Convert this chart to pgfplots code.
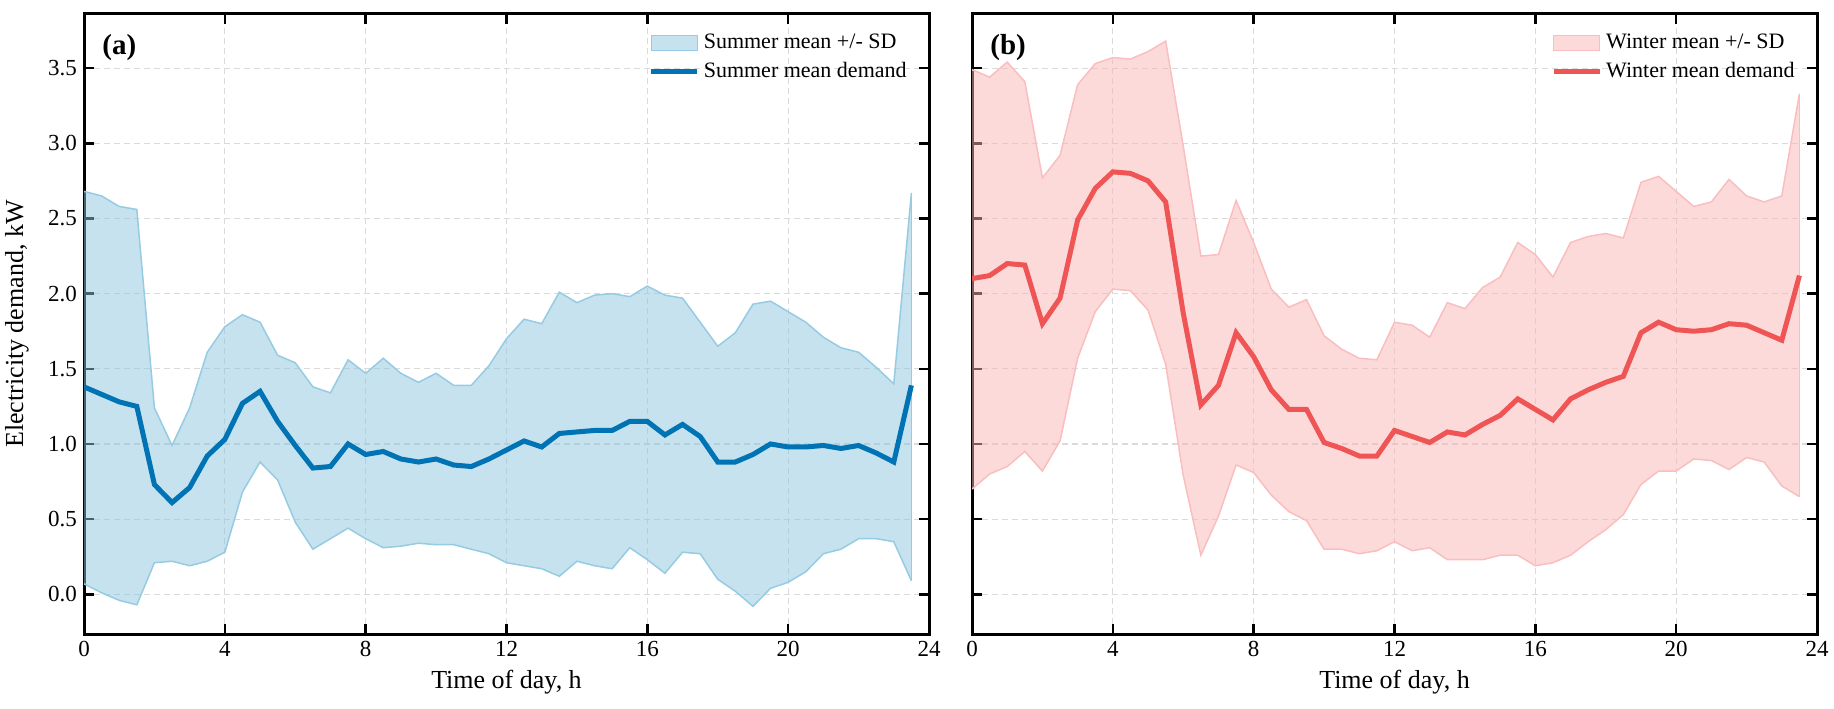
\documentclass[border=0pt]{standalone}
\usepackage{fontspec}
\setmainfont{Liberation Serif}
\usepackage{pgfplots}
\pgfplotsset{compat=1.18}
\usepackage{pgfplotstable}
\usepgfplotslibrary{fillbetween}

\definecolor{sline}{RGB}{0,115,180}
\definecolor{sfill}{RGB}{141,197,221}
\definecolor{sedge}{RGB}{150,203,228}
\definecolor{wline}{RGB}{240,85,85}
\definecolor{wfill}{RGB}{251,181,181}
\definecolor{wedge}{RGB}{250,190,190}
\definecolor{gridc}{RGB}{218,218,218}

\pgfplotstableread{
t    sm    su    sl     wm    wu    wl
0    1.38  2.68  0.07   2.10  3.49  0.70
0.5  1.33  2.65  0.01   2.12  3.44  0.80
1    1.28  2.58  -0.04  2.20  3.54  0.85
1.5  1.25  2.56  -0.07  2.19  3.41  0.95
2    0.73  1.24  0.21   1.80  2.77  0.82
2.5  0.61  0.99  0.22   1.97  2.92  1.02
3    0.71  1.24  0.19   2.49  3.39  1.57
3.5  0.92  1.61  0.22   2.70  3.53  1.88
4    1.03  1.78  0.28   2.81  3.57  2.03
4.5  1.27  1.86  0.68   2.80  3.56  2.02
5    1.35  1.81  0.88   2.75  3.61  1.89
5.5  1.15  1.59  0.76   2.61  3.68  1.53
6    0.99  1.54  0.48   1.87  2.98  0.79
6.5  0.84  1.38  0.30   1.26  2.25  0.26
7    0.85  1.34  0.37   1.39  2.26  0.52
7.5  1.00  1.56  0.44   1.74  2.62  0.86
8    0.93  1.47  0.37   1.58  2.34  0.81
8.5  0.95  1.57  0.31   1.36  2.03  0.66
9    0.90  1.47  0.32   1.23  1.91  0.55
9.5  0.88  1.41  0.34   1.23  1.96  0.49
10   0.90  1.47  0.33   1.01  1.72  0.30
10.5 0.86  1.39  0.33   0.97  1.63  0.30
11   0.85  1.39  0.30   0.92  1.57  0.27
11.5 0.90  1.52  0.27   0.92  1.56  0.29
12   0.96  1.70  0.21   1.09  1.81  0.35
12.5 1.02  1.83  0.19   1.05  1.79  0.29
13   0.98  1.80  0.17   1.01  1.71  0.31
13.5 1.07  2.01  0.12   1.08  1.94  0.23
14   1.08  1.94  0.22   1.06  1.90  0.23
14.5 1.09  1.99  0.19   1.13  2.04  0.23
15   1.09  2.00  0.17   1.19  2.11  0.26
15.5 1.15  1.98  0.31   1.30  2.34  0.26
16   1.15  2.05  0.23   1.23  2.26  0.19
16.5 1.06  1.99  0.14   1.16  2.11  0.21
17   1.13  1.97  0.28   1.30  2.34  0.26
17.5 1.05  1.81  0.27   1.36  2.38  0.35
18   0.88  1.65  0.10   1.41  2.40  0.43
18.5 0.88  1.74  0.02   1.45  2.37  0.53
19   0.93  1.93  -0.08  1.74  2.74  0.73
19.5 1.00  1.95  0.04   1.81  2.78  0.82
20   0.98  1.88  0.08   1.76  2.68  0.82
20.5 0.98  1.81  0.15   1.75  2.58  0.90
21   0.99  1.71  0.27   1.76  2.61  0.89
21.5 0.97  1.64  0.30   1.80  2.76  0.83
22   0.99  1.61  0.37   1.79  2.65  0.91
22.5 0.94  1.51  0.37   1.74  2.61  0.88
23   0.88  1.40  0.35   1.69  2.65  0.72
23.5 1.39  2.67  0.09   2.12  3.33  0.65
}\data

\pgfplotsset{
  panel/.style={
    scale only axis, width=422.5pt, height=310pt,
    xmin=0, xmax=24, ymin=-0.264, ymax=3.86,
    xtick={0,4,...,24}, ytick={0,0.5,...,3.5},
    tick align=inside, xtick pos=both, ytick pos=both,
    major tick length=5pt,
    tick style={black, line width=1.25pt},
    axis line style={line width=1.5pt},
    grid=major,
    grid style={dash pattern=on 3pt off 2pt, color=gridc, line width=0.6pt},
    /pgf/number format/assume math mode=true,
    ticklabel style={font=\fontsize{11.5}{12}\selectfont},
    yticklabel style={/pgf/number format/fixed, /pgf/number format/fixed zerofill, /pgf/number format/precision=1},
    label style={font=\fontsize{13}{14}\selectfont},
    xlabel={Time of day, h},
    xlabel style={at={(axis description cs:0.5,-0.0774)}, anchor=center},
    legend cell align=left,
    legend style={at={(1,1)}, anchor=north east, draw=none, fill=none,
      font=\fontsize{11}{12}\selectfont, xshift=-6pt, yshift=-6pt,
      row sep=1pt},
  },
  linelegend/.style={legend image code/.code={\draw[##1] (0pt,0pt) -- (23pt,0pt);}},
}

\begin{document}
\begin{tikzpicture}
\begin{axis}[panel, at={(42pt,37pt)}, anchor=south west,
  ylabel={Electricity demand, kW},
  ylabel style={at={(axis description cs:-0.0793,0.5)}, anchor=center}]
\addplot[name path=su, draw=sedge, line width=0.75pt, forget plot] table[x=t, y=su] {\data};
\addplot[name path=sl, draw=sedge, line width=0.75pt, forget plot] table[x=t, y=sl] {\data};
\addplot[sedge, line width=0.75pt, forget plot] coordinates {(23.5,0.09) (23.5,2.67)};
\addplot[fill=sfill, fill opacity=0.5, draw=none,
  legend image code/.code={\draw[fill=sfill, fill opacity=0.5, draw=sedge, draw opacity=1, line width=0.75pt] (0pt,-3.75pt) rectangle (23pt,3.75pt);}]
  fill between[of=su and sl];
\addlegendentry{Summer mean +/- SD}
\addplot[sline, line width=2.5pt, linelegend] table[x=t, y=sm] {\data};
\addlegendentry{Summer mean demand}
\node[anchor=west, inner sep=0pt, font=\bfseries\fontsize{14.5}{15}\selectfont, xshift=9pt, yshift=-17pt] at (rel axis cs:0,1) {(a)};
\end{axis}

\begin{axis}[panel, at={(486pt,37pt)}, anchor=south west, yticklabels={}]
\addplot[name path=wu, draw=wedge, line width=0.75pt, forget plot] table[x=t, y=wu] {\data};
\addplot[name path=wl, draw=wedge, line width=0.75pt, forget plot] table[x=t, y=wl] {\data};
\addplot[wedge, line width=0.75pt, forget plot] coordinates {(23.5,0.65) (23.5,3.33)};
\addplot[fill=wfill, fill opacity=0.5, draw=none,
  legend image code/.code={\draw[fill=wfill, fill opacity=0.5, draw=wedge, draw opacity=1, line width=0.75pt] (0pt,-3.75pt) rectangle (23pt,3.75pt);}]
  fill between[of=wu and wl];
\addlegendentry{Winter mean +/- SD}
\addplot[wline, line width=2.5pt, linelegend] table[x=t, y=wm] {\data};
\addlegendentry{Winter mean demand}
\node[anchor=west, inner sep=0pt, font=\bfseries\fontsize{14.5}{15}\selectfont, xshift=9pt, yshift=-17pt] at (rel axis cs:0,1) {(b)};
\end{axis}
\pgfresetboundingbox
\useasboundingbox (0,0) rectangle (917pt,354pt);
\end{tikzpicture}
\end{document}
